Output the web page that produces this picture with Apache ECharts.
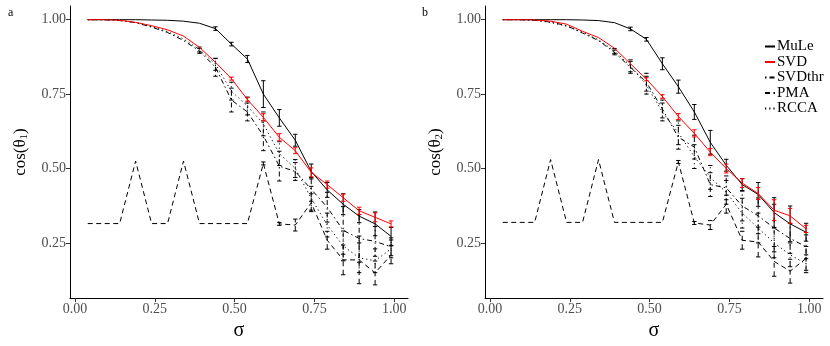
<!DOCTYPE html>
<html><head><meta charset="utf-8">
<script src="https://cdn.jsdelivr.net/npm/echarts@6/dist/echarts.min.js"></script>
<style>html,body{margin:0;padding:0;background:#fff}#c{width:830px;height:346px}</style>
</head><body><div id="c"></div>
<script>
const sigma = [0.04,0.09,0.14,0.19,0.24,0.29,0.34,0.39,0.44,0.49,0.54,0.59,0.64,0.69,0.74,0.79,0.84,0.89,0.94,0.99];
const xTicks = [0, 0.25, 0.5, 0.75, 1];
const yTicks = [0.25, 0.5, 0.75, 1];
const seriesNames = ['MuLe','SVD','SVDthr','PMA','RCCA'];

// panel a : cos(theta_1)
const mule1 = [1.000,1.000,1.000,1.000,0.999,0.998,0.995,0.988,0.970,0.918,0.868,0.750,0.670,0.595,0.490,0.428,0.380,0.340,0.314,0.272];
const mule1Err = [0,0,0,0,0,0,0,0,0.006,0.006,0.012,0.045,0.028,0.02,0.025,0.025,0.035,0.022,0.04,0.03];
const svd1 = [1.000,1.000,0.998,0.991,0.980,0.966,0.945,0.907,0.857,0.802,0.732,0.672,0.605,0.560,0.487,0.446,0.402,0.358,0.336,0.314];
const svd1Err = [0,0,0,0,0,0,0,0,0,0.005,0.006,0.012,0.012,0.010,0.015,0.012,0.012,0.012,0.015,0.010];
const svdthr1 = [1.000,1.000,0.997,0.990,0.975,0.957,0.930,0.895,0.840,0.730,0.690,0.610,0.508,0.490,0.430,0.370,0.292,0.265,0.255,0.237];
const svdthr1Err = [0,0,0,0,0,0,0,0.008,0.030,0.040,0.030,0.050,0.050,0.030,0.040,0.050,0.080,0.080,0.050,0.030];
const pma1 = [0.315,0.315,0.315,0.525,0.315,0.315,0.525,0.315,0.315,0.315,0.315,0.517,0.314,0.310,0.385,0.259,0.193,0.193,0.149,0.210];
const pma1Err = [0,0,0,0,0,0,0,0,0,0,0,0.005,0.005,0.020,0.030,0.030,0.050,0.080,0.040,0.030];
const rcca1 = [1.000,1.000,0.998,0.990,0.977,0.960,0.935,0.900,0.850,0.760,0.710,0.650,0.550,0.500,0.400,0.310,0.240,0.200,0.190,0.230];
const rcca1Err = [0,0,0,0,0,0,0,0.008,0.020,0.030,0.030,0.040,0.040,0.030,0.040,0.040,0.050,0.050,0.040,0.030];

// panel b : cos(theta_2)
const mule2 = [1.000,1.000,1.000,1.000,1.000,0.999,0.997,0.990,0.969,0.934,0.852,0.775,0.690,0.588,0.511,0.446,0.413,0.352,0.314,0.286];
const mule2Err = [0,0,0,0,0,0,0,0,0.006,0.006,0.020,0.022,0.025,0.040,0.020,0.020,0.040,0.050,0.060,0.030];
const svd2 = [1.000,1.000,0.999,0.995,0.985,0.961,0.940,0.904,0.852,0.800,0.742,0.675,0.618,0.555,0.500,0.451,0.416,0.360,0.341,0.297];
const svd2Err = [0,0,0,0,0,0,0,0,0,0.005,0.006,0.010,0.012,0.012,0.015,0.015,0.020,0.035,0.025,0.012];
const svdthr2 = [1.000,1.000,0.998,0.992,0.980,0.955,0.930,0.890,0.840,0.790,0.700,0.605,0.572,0.446,0.435,0.374,0.341,0.300,0.265,0.237];
const svdthr2Err = [0,0,0,0,0,0,0,0.008,0.020,0.030,0.030,0.040,0.040,0.040,0.040,0.050,0.060,0.080,0.050,0.040];
const pma2 = [0.319,0.319,0.319,0.530,0.319,0.319,0.530,0.319,0.319,0.319,0.319,0.522,0.317,0.310,0.380,0.259,0.253,0.188,0.155,0.198];
const pma2Err = [0,0,0,0,0,0,0,0,0,0,0,0.005,0.005,0.015,0.030,0.030,0.050,0.050,0.040,0.040];
const rcca2 = [1.000,1.000,0.998,0.991,0.978,0.958,0.932,0.895,0.845,0.780,0.690,0.620,0.540,0.470,0.420,0.350,0.300,0.250,0.210,0.180];
const rcca2Err = [0,0,0,0,0,0,0,0.008,0.020,0.030,0.030,0.040,0.040,0.040,0.040,0.050,0.050,0.050,0.040,0.030];

const FONT = 'Liberation Serif';
const styles = {
  MuLe:   {color:'#000000', dash:'solid'},
  SVD:    {color:'#ff0000', dash:'solid'},
  SVDthr: {color:'#000000', dash:[1.5,3,5,3]},
  PMA:    {color:'#000000', dash:[5,3.5]},
  RCCA:   {color:'#000000', dash:[1.2,3]}
};
const panels = [
  {vals:[mule1,svd1,svdthr1,pma1,rcca1], errs:[mule1Err,svd1Err,svdthr1Err,pma1Err,rcca1Err], yname:'{a|cos(θ}{s|1}{a|)}'},
  {vals:[mule2,svd2,svdthr2,pma2,rcca2], errs:[mule2Err,svd2Err,svdthr2Err,pma2Err,rcca2Err], yname:'{a|cos(θ}{s|2}{a|)}'}
];
const gridLefts = [70, 485];

const grids = [], xAxes = [], yAxes = [], series = [];
panels.forEach((p, pi) => {
  grids.push({left: gridLefts[pi], top: 6, width: 338, height: 298, containLabel: false});
  xAxes.push({
    type:'value', gridIndex: pi, min: -0.0155, max: 1.043,
    name:'σ', nameLocation:'middle', nameGap: 10,
    nameTextStyle:{fontFamily:FONT, fontSize:20, color:'#000'},
    axisLine:{show:true, onZero:false, lineStyle:{color:'#000', width:1}},
    axisTick:{show:true, length:4, lineStyle:{color:'#333'}, customValues: xTicks},
    axisLabel:{fontFamily:FONT, fontSize:14, color:'#4d4d4d', margin:4, customValues: xTicks, formatter: v => v.toFixed(2)},
    splitLine:{show:false}
  });
  yAxes.push({
    type:'value', gridIndex: pi, min: 0.0646, max: 1.046,
    name: p.yname, nameLocation:'middle', nameGap: 40,
    nameTextStyle:{rich:{a:{fontFamily:FONT, fontSize:17, color:'#000'}, s:{fontFamily:FONT, fontSize:11, color:'#000', verticalAlign:'bottom', padding:[8,0,0,0]}}},
    axisLine:{show:true, onZero:false, lineStyle:{color:'#000', width:1}},
    axisTick:{show:true, length:4, lineStyle:{color:'#333'}, customValues: yTicks},
    axisLabel:{fontFamily:FONT, fontSize:14, color:'#4d4d4d', margin:4, customValues: yTicks, formatter: v => v.toFixed(2)},
    splitLine:{show:false}
  });
  seriesNames.forEach((nm, si) => {
    const st = styles[nm];
    const vals = p.vals[si], errs = p.errs[si];
    series.push({
      type:'line', name:nm, xAxisIndex:pi, yAxisIndex:pi, symbol:'none', showSymbol:false, animation:false,
      z: si===1 ? 4 : 3,
      lineStyle:{color:st.color, width:1, type:st.dash},
      itemStyle:{color:st.color},
      data: sigma.map((s,i) => [s, vals[i]])
    });
    series.push({
      type:'custom', name:nm+'_err', xAxisIndex:pi, yAxisIndex:pi, animation:false, silent:true,
      z: si===1 ? 4 : 3,
      data: sigma.map((s,i) => [s, vals[i]-errs[i], vals[i]+errs[i], errs[i]]),
      renderItem: (params, api) => {
        if (!(api.value(3) > 0)) return null;
        const lo = api.coord([api.value(0), api.value(1)]);
        const hi = api.coord([api.value(0), api.value(2)]);
        const w = 2.2;
        const ls = {stroke:st.color, lineWidth:1, lineDash: st.dash==='solid'?null:st.dash, fill:null};
        return {type:'group', children:[
          {type:'line', shape:{x1:lo[0], y1:lo[1], x2:hi[0], y2:hi[1]}, style:ls},
          {type:'line', shape:{x1:lo[0]-w, y1:lo[1], x2:lo[0]+w, y2:lo[1]}, style:{stroke:st.color, lineWidth:1}},
          {type:'line', shape:{x1:hi[0]-w, y1:hi[1], x2:hi[0]+w, y2:hi[1]}, style:{stroke:st.color, lineWidth:1}}
        ]};
      }
    });
  });
});

const chart = echarts.init(document.getElementById('c'), null, {renderer:'canvas'});
chart.setOption({
  animation:false,
  backgroundColor:'#fff',
  title:[
    {text:'a', left:3, top:2, textStyle:{fontFamily:FONT, fontSize:12, fontWeight:'normal', color:'#000'}},
    {text:'b', left:417, top:2, textStyle:{fontFamily:FONT, fontSize:12, fontWeight:'normal', color:'#000'}}
  ],
  legend:{
    data: seriesNames, orient:'vertical', left:764, top:39, padding:0,
    itemWidth:10, itemHeight:8, itemGap:0.5,
    itemStyle:{opacity:0, borderWidth:0},
    textStyle:{fontFamily:FONT, fontSize:15, color:'#000', lineHeight:12, padding:[0,0,0,-3]},
    selectedMode:false
  },
  grid: grids, xAxis: xAxes, yAxis: yAxes, series: series
});
</script></body></html>
